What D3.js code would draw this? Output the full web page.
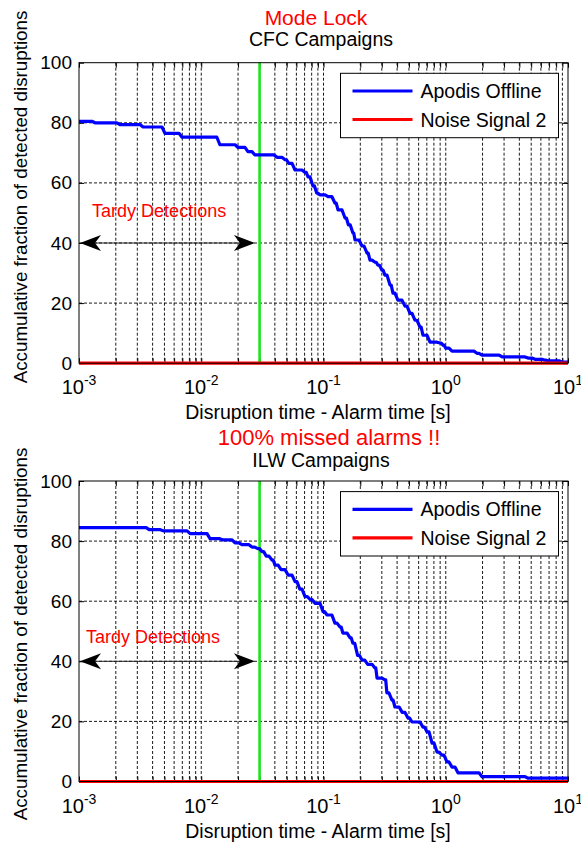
<!DOCTYPE html>
<html>
<head>
<meta charset="utf-8">
<script src="https://cdn.jsdelivr.net/npm/d3@7"></script>
<style>
  body { margin: 0; background: #fff; }
  svg { display: block; font-family: "Liberation Sans", Arial, sans-serif; }
</style>
</head>
<body>
<div id="chart"></div>
<script>
// values

// CFC campaigns, Apodis Offline (step curve)
var cfcTime = [0.001, 0.00135, 0.00216, 0.00334, 0.00505, 0.00696, 0.0142, 0.020, 0.0241, 0.0275,
  0.0417, 0.0484, 0.052, 0.0585, 0.0706, 0.0747, 0.082, 0.088, 0.0936, 0.109,
  0.124, 0.1315, 0.150, 0.160, 0.174, 0.181, 0.2065, 0.227, 0.240, 0.264,
  0.279, 0.300, 0.318, 0.350, 0.370, 0.406, 0.464, 0.510, 0.560, 0.615,
  0.651, 0.743, 0.897, 0.950, 1.0, 1.125, 1.80, 1.98, 2.89, 4.71,
  5.37, 6.49, 6.86, 8.93, 10];
var cfcFrac = [80.5, 80, 79.4, 78.6, 76.5, 75.2, 72.7, 71.8, 70.4, 69.3,
  68.5, 67.7, 66.5, 64.3, 63.5, 62, 59, 56.6, 56, 55.4,
  53.3, 51, 48.3, 46, 43.3, 41, 39, 36.6, 34.3, 33.6,
  32.6, 31, 29.3, 26, 23.3, 21, 19, 16.6, 14.3, 12,
  9.3, 7, 6.7, 6, 5, 4, 3.3, 2.7, 2.1, 1.7,
  1.3, 1.0, 0.8, 0.4, 0.4];

// ILW campaigns, Apodis Offline
var ilwTime = [0.001, 0.00375, 0.0049, 0.0081, 0.0118, 0.015, 0.0189, 0.0215, 0.026, 0.029,
  0.0314, 0.034, 0.0379, 0.0401, 0.045, 0.0513, 0.0585, 0.064, 0.0706, 0.078,
  0.0852, 0.0991, 0.107, 0.124, 0.1365, 0.144, 0.165, 0.174, 0.19, 0.2065,
  0.23, 0.2637, 0.274, 0.318, 0.33, 0.363, 0.384, 0.44, 0.491, 0.53,
  0.651, 0.703, 0.772, 0.848, 0.931, 1.023, 1.125, 1.259, 1.98, 4.71, 10];
var ilwFrac = [84.5, 83.8, 83.4, 82.5, 80.8, 80.4, 79.4, 78.8, 78, 77.5,
  76.5, 75, 73.7, 72, 70.5, 68.7, 66.5, 64, 61.5, 60.5,
  59.3, 56.5, 55.4, 52.7, 51.4, 49.4, 47.8, 46, 42, 40.4,
  39, 37.8, 34.4, 33.8, 29.5, 27.1, 24.8, 23, 21.1, 19.8,
  18.1, 16.5, 12.8, 9.8, 8.8, 6.5, 4.8, 2.9, 1.6, 1.1, 1.1];

// Noise Signal 2 never detects anything
var noiseTime = [0.001, 10];
var noiseFrac = [0, 0];

var legendLabels = ["Apodis Offline", "Noise Signal 2"];
var xMajorTicks = [0.001, 0.01, 0.1, 1, 10];
var xTickExp = ["-3", "-2", "-1", "0", "1"];
var yTicks = [0, 20, 40, 60, 80, 100];

var alarmTime = 0.03;                 // green vertical line
var tardyArrow = [0.001, 0.0275, 40]; // from, to, level

var font = '"Liberation Sans", Arial, sans-serif';

var svg = d3.select("#chart")
  .append("svg")
    .attr("width", 581)
    .attr("height", 846);

var plotLeft = 79,
    plotWidth = 489,
    plotHeight = 300.5;

var x = d3.scaleLog().domain([0.001, 10]).range([0, plotWidth]);
var y = d3.scaleLinear().domain([0, 100]).range([plotHeight, 0]);

var line = d3.line()
  .x(function(d) { return d[0]; })
  .y(function(d) { return d[1]; });

// staircase in screen space, each drop slightly slanted like the original
function stairPoints(t, v) {
  var pts = [[x(t[0]), y(v[0])]];
  for (var i = 1; i < t.length; i++) {
    var x0 = x(t[i - 1]), x1 = x(t[i]);
    var slant = Math.min(0.6 * (x1 - x0), 3);
    pts.push([x1 - slant, y(v[i - 1])]);
    pts.push([x1, y(v[i])]);
  }
  return pts;
}

function arrowHead(tipX, tipY, dir) {
  var L = 21, W = 8, N = 15;
  return "M" + tipX + "," + tipY +
    "L" + (tipX + dir * L) + "," + (tipY - W) +
    "L" + (tipX + dir * N) + "," + tipY +
    "L" + (tipX + dir * L) + "," + (tipY + W) + "Z";
}

function drawPanel(p) {
  var g = svg.append("g")
    .attr("transform", "translate(" + plotLeft + "," + p.top + ")");

  var minor = x.ticks().filter(function(d) { return d > 0.001 && d < 10; });

  // dotted grid
  g.append("g").selectAll("line")
    .data(minor)
    .join("line")
      .attr("x1", function(d) { return x(d); })
      .attr("x2", function(d) { return x(d); })
      .attr("y1", 0)
      .attr("y2", plotHeight)
      .attr("stroke", "#000")
      .attr("stroke-width", 0.9)
      .attr("stroke-dasharray", "3,2");

  g.append("g").selectAll("line")
    .data(yTicks.filter(function(d) { return d > 0 && d < 100; }))
    .join("line")
      .attr("x1", 0)
      .attr("x2", plotWidth)
      .attr("y1", function(d) { return y(d); })
      .attr("y2", function(d) { return y(d); })
      .attr("stroke", "#000")
      .attr("stroke-width", 0.9)
      .attr("stroke-dasharray", "3,2");

  // ticks (inside, like matlab)
  var bottomAxis = g.append("g")
    .attr("transform", "translate(0," + plotHeight + ")")
    .call(d3.axisBottom(x).tickValues(x.ticks()).tickSizeInner(-5).tickSizeOuter(0).tickFormat(function() { return ""; }));
  var topAxis = g.append("g")
    .call(d3.axisTop(x).tickValues(x.ticks()).tickSizeInner(-5).tickSizeOuter(0).tickFormat(function() { return ""; }));
  var leftAxis = g.append("g")
    .call(d3.axisLeft(y).tickValues(yTicks).tickSizeInner(-5).tickSizeOuter(0).tickPadding(7));
  var rightAxis = g.append("g")
    .attr("transform", "translate(" + plotWidth + ",0)")
    .call(d3.axisRight(y).tickValues(yTicks).tickSizeInner(-5).tickSizeOuter(0).tickFormat(function() { return ""; }));

  [bottomAxis, topAxis, leftAxis, rightAxis].forEach(function(a) {
    a.select(".domain").remove();
    a.selectAll("line").attr("stroke", "#000");
  });
  leftAxis.selectAll("text")
    .attr("font-family", font)
    .attr("font-size", 19)
    .attr("fill", "#000");

  // x tick labels 10^n
  var xl = g.append("g").selectAll("text")
    .data(xMajorTicks)
    .join("text")
      .attr("x", function(d) { return x(d); })
      .attr("y", plotHeight + 31)
      .attr("text-anchor", "middle")
      .attr("font-family", font)
      .attr("font-size", 20)
      .attr("fill", "#000");
  xl.append("tspan").text("10");
  xl.append("tspan")
    .attr("font-size", 14)
    .attr("dy", -9)
    .text(function(d, i) { return xTickExp[i]; });

  // alarm time
  g.append("line")
    .attr("x1", x(alarmTime))
    .attr("x2", x(alarmTime))
    .attr("y1", y(0))
    .attr("y2", y(100))
    .attr("stroke", "#19e619")
    .attr("stroke-width", 2.6);

  g.append("path")
    .datum(stairPoints(p.time, p.frac))
    .attr("fill", "none")
    .attr("stroke", "#0000ff")
    .attr("stroke-width", 3.2)
    .attr("stroke-linejoin", "round")
    .attr("d", line);

  g.append("path")
    .datum(stairPoints(noiseTime, noiseFrac))
    .attr("fill", "none")
    .attr("stroke", "#ff0000")
    .attr("stroke-width", 3.2)
    .attr("d", line);

  // box
  g.append("rect")
    .attr("width", plotWidth)
    .attr("height", plotHeight)
    .attr("fill", "none")
    .attr("stroke", "#000")
    .attr("stroke-width", 1);

  // tardy detections arrow
  var ay = y(tardyArrow[2]);
  var ax0 = x(tardyArrow[0]), ax1 = x(tardyArrow[1]);
  g.append("line")
    .attr("x1", ax0 + 10)
    .attr("x2", ax1 - 10)
    .attr("y1", ay)
    .attr("y2", ay)
    .attr("stroke", "#222")
    .attr("stroke-width", 1);
  g.append("path").attr("d", arrowHead(ax0 + 1, ay, 1)).attr("fill", "#000");
  g.append("path").attr("d", arrowHead(ax1, ay, -1)).attr("fill", "#000");

  g.append("text")
    .attr("x", x(p.tardyAt[0]))
    .attr("y", y(p.tardyAt[1]))
    .attr("font-family", font)
    .attr("font-size", 18)
    .attr("fill", "#ff0000")
    .text("Tardy Detections");

  // legend
  var lg = g.append("g")
    .attr("transform", "translate(" + (plotWidth - 227.5) + ",10.6)");
  lg.append("rect")
    .attr("width", 218)
    .attr("height", 64.4)
    .attr("fill", "#fff")
    .attr("stroke", "#000")
    .attr("stroke-width", 1);
  var rows = lg.selectAll("g.row")
    .data(legendLabels)
    .join("g")
      .attr("class", "row")
      .attr("transform", function(d, i) { return "translate(0," + (17.7 + i * 28.5) + ")"; });
  rows.append("line")
    .attr("x1", 12)
    .attr("x2", 72)
    .attr("stroke", function(d, i) { return i === 0 ? "#0000ff" : "#ff0000"; })
    .attr("stroke-width", 3.2);
  rows.append("text")
    .attr("x", 80)
    .attr("y", 7)
    .attr("font-family", font)
    .attr("font-size", 19.5)
    .attr("fill", "#000")
    .text(function(d) { return d; });

  // x label
  g.append("text")
    .attr("x", p.xLabelX - plotLeft)
    .attr("y", plotHeight + 56)
    .attr("text-anchor", "middle")
    .attr("font-family", font)
    .attr("font-size", 19.5)
    .attr("fill", "#000")
    .text("Disruption time - Alarm time [s]");

  // y label
  svg.append("text")
    .attr("transform", "translate(27," + p.yLabelY + ") rotate(-90)")
    .attr("text-anchor", "middle")
    .attr("font-family", font)
    .attr("font-size", 18.8)
    .attr("fill", "#000")
    .text("Accumulative fraction of detected disruptions");

  // titles
  svg.append("text")
    .attr("x", p.redX)
    .attr("y", p.redY)
    .attr("text-anchor", "middle")
    .attr("font-family", font)
    .attr("font-size", p.redSize)
    .attr("fill", "#ff0000")
    .text(p.red);
  svg.append("text")
    .attr("x", 321)
    .attr("y", p.titleY)
    .attr("text-anchor", "middle")
    .attr("font-family", font)
    .attr("font-size", 19.5)
    .attr("fill", "#000")
    .text(p.title);
}

drawPanel({
  top: 62.7, time: cfcTime, frac: cfcFrac,
  tardyAt: [0.00128, 48.7],
  red: "Mode Lock", redX: 316, redY: 25, redSize: 21,
  title: "CFC Campaigns", titleY: 46,
  xLabelX: 318, yLabelY: 197
});

drawPanel({
  top: 481, time: ilwTime, frac: ilwFrac,
  tardyAt: [0.00114, 46],
  red: "100% missed alarms !!", redX: 329, redY: 445, redSize: 22,
  title: "ILW Campaigns", titleY: 467,
  xLabelX: 318, yLabelY: 634
});
</script>
</body>
</html>
